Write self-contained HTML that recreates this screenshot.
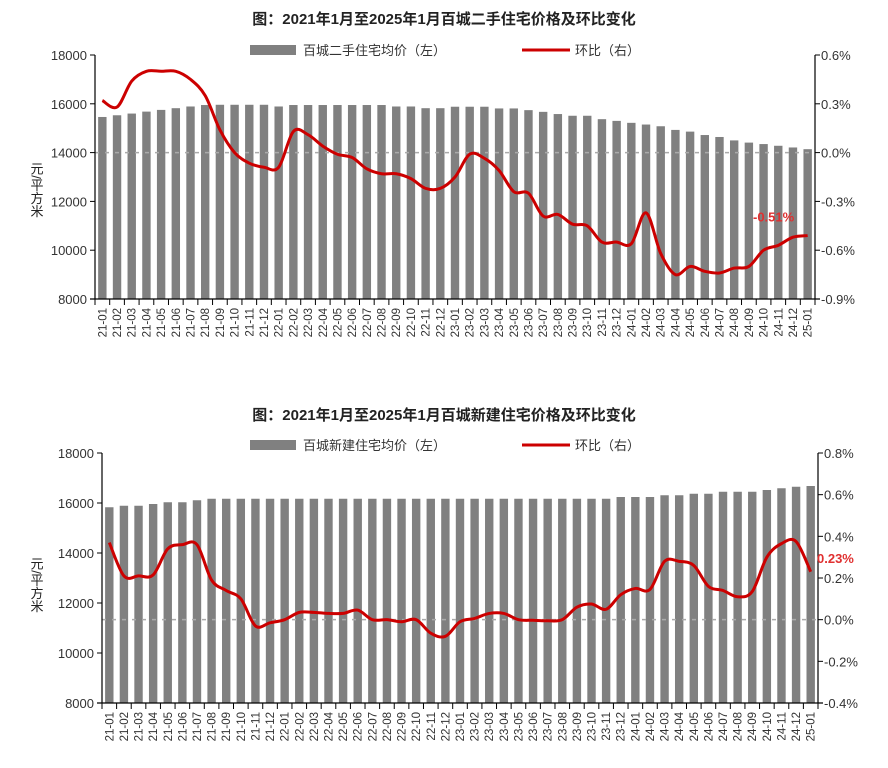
<!DOCTYPE html>
<html><head><meta charset="utf-8">
<style>
body{margin:0;background:#fff;}
svg{display:block;font-family:"Liberation Sans","Noto Sans CJK SC",sans-serif;}
</style></head>
<body>
<svg id="c" width="888" height="768" viewBox="0 0 888 768"></svg>
<script>
const months = [];
for (let y = 21; y <= 25; y++) for (let m = 1; m <= 12; m++) { if (y === 25 && m > 1) break; months.push(y + '-' + (m < 10 ? '0' + m : m)); }
const usedPrice = [15460,15530,15600,15680,15750,15820,15890,15950,15960,15960,15960,15960,15890,15950,15950,15950,15950,15950,15950,15950,15890,15890,15820,15820,15880,15880,15880,15810,15810,15740,15670,15580,15510,15510,15370,15300,15220,15150,15080,14930,14860,14720,14640,14500,14410,14350,14280,14210,14140];
const usedMoM = [0.32,0.28,0.44,0.50,0.50,0.50,0.45,0.35,0.14,0.0,-0.065,-0.09,-0.09,0.13,0.11,0.04,-0.01,-0.03,-0.10,-0.13,-0.13,-0.16,-0.22,-0.22,-0.15,-0.01,-0.035,-0.11,-0.24,-0.25,-0.39,-0.38,-0.44,-0.45,-0.55,-0.55,-0.56,-0.37,-0.62,-0.75,-0.70,-0.73,-0.74,-0.71,-0.70,-0.60,-0.57,-0.52,-0.51];
const newPrice = [15830,15890,15890,15960,16030,16030,16110,16170,16170,16170,16170,16170,16170,16170,16170,16170,16170,16170,16170,16170,16170,16170,16170,16170,16170,16170,16170,16170,16170,16170,16170,16170,16170,16170,16170,16240,16240,16240,16310,16310,16370,16370,16450,16450,16450,16520,16590,16650,16680];
const newMoM = [0.37,0.21,0.21,0.215,0.34,0.36,0.36,0.19,0.14,0.10,-0.03,-0.015,0.0,0.035,0.035,0.03,0.03,0.046,0.0,0.0,-0.01,0.0,-0.065,-0.08,-0.01,0.006,0.03,0.03,0.0,-0.003,-0.005,0.0,0.06,0.075,0.05,0.12,0.15,0.145,0.28,0.28,0.26,0.16,0.14,0.11,0.135,0.30,0.365,0.375,0.23];
const leftTicks = [8000,10000,12000,14000,16000,18000];
const rightTicksTop = [-0.9,-0.6,-0.3,0.0,0.3,0.6];
const rightTicksBot = [-0.4,-0.2,0.0,0.2,0.4,0.6,0.8];

const svg = document.getElementById('c');
const NS = 'http://www.w3.org/2000/svg';
function mk(tag, attrs, parent, text) {
  const e = document.createElementNS(NS, tag);
  for (const k in attrs) e.setAttribute(k, attrs[k]);
  if (text !== undefined) e.textContent = text;
  (parent || svg).appendChild(e);
  return e;
}
function smooth(pts) {
  let d = 'M' + pts[0][0] + ',' + pts[0][1];
  for (let i = 0; i < pts.length - 1; i++) {
    const p0 = pts[i - 1] || pts[i], p1 = pts[i], p2 = pts[i + 1], p3 = pts[i + 2] || p2;
    const c1x = p1[0] + (p2[0] - p0[0]) / 6, c1y = p1[1] + (p2[1] - p0[1]) / 6;
    const c2x = p2[0] - (p3[0] - p1[0]) / 6, c2y = p2[1] - (p3[1] - p1[1]) / 6;
    d += ' C' + c1x + ',' + c1y + ' ' + c2x + ',' + c2y + ' ' + p2[0] + ',' + p2[1];
  }
  return d;
}
function chart(o) {
  const g = mk('g', {});
  
  
  const yL = v => o.y1 + (v - 8000) / 10000 * (o.y0 - o.y1);
  const yR = v => o.y1 + (v - o.rMin) / (o.rMax - o.rMin) * (o.y0 - o.y1);
  const step = (o.x1 - o.x0) / months.length;
  const xC = i => o.x0 + step * (i + 0.5);
  const t = mk('text', {x: 444, y: o.titleY, 'text-anchor': 'middle', 'font-size': 15, 'font-weight': 'bold', fill: '#222'}, g, o.title);
   
  // legend
  const lg = mk('g', {}, g);
   
  mk('rect', {x: 250, y: o.legY - 5, width: 46, height: 10, fill: '#808080'}, lg);
  mk('text', {x: 303, y: o.legY + 5, 'font-size': 13, fill: '#333'}, lg, o.barLabel);
  mk('line', {x1: 522, y1: o.legY, x2: 570, y2: o.legY, stroke: '#cc0000', 'stroke-width': 3}, lg);
  mk('text', {x: 575, y: o.legY + 5, 'font-size': 13, fill: '#333'}, lg, '环比（右）');
  // bars
  usedBars = o.bars;
  o.bars.forEach((v, i) => {
    const r = mk('rect', {x: xC(i) - 4.2, y: yL(v), width: 8.4, height: o.y1 - yL(v), fill: '#808080'}, g);
    
    
  });
  // zero dashed
  const z = mk('line', {x1: o.x0, y1: yR(0), x2: o.x1, y2: yR(0), stroke: '#aaa', 'stroke-width': 1.5, 'stroke-dasharray': '4,6'}, g);
   
  // axes
  mk('line', {x1: o.x0, y1: o.y0, x2: o.x0, y2: o.y1, stroke: '#000', 'stroke-width': 1.2}, g);
  mk('line', {x1: o.x1, y1: o.y0, x2: o.x1, y2: o.y1, stroke: '#000', 'stroke-width': 1.2}, g);
  mk('line', {x1: o.x0 - 5, y1: o.y1, x2: o.x1 + 5, y2: o.y1, stroke: '#000', 'stroke-width': 1.2}, g);
  leftTicks.forEach(v => {
    mk('line', {x1: o.x0 - 5, y1: yL(v), x2: o.x0, y2: yL(v), stroke: '#000'}, g);
    const tx = mk('text', {x: o.x0 - 8, y: yL(v) + 5, 'text-anchor': 'end', 'font-size': 13, fill: '#333'}, g, String(v));
     
  });
  o.rTicks.forEach(v => {
    mk('line', {x1: o.x1, y1: yR(v), x2: o.x1 + 5, y2: yR(v), stroke: '#000'}, g);
    const tx = mk('text', {x: o.x1 + 6, y: yR(v) + 5, 'font-size': 13, fill: '#333'}, g, v.toFixed(1) + '%');
     
  });
  for (let i = 0; i <= months.length; i++) mk('line', {x1: o.x0 + step * i, y1: o.y1, x2: o.x0 + step * i, y2: o.y1 + 6, stroke: '#000'}, g);
  months.forEach((m, i) => {
    const tx = mk('text', {x: 0, y: 0, 'text-anchor': 'end', 'font-size': 11.5, fill: '#333', transform: 'translate(' + (xC(i) + 4) + ',' + (o.y1 + 9) + ') rotate(-90)'}, g, m);
     
  });
  // y title
  const yt = mk('text', {x: 36, y: o.yTitleY, 'font-size': 13, fill: '#222', 'writing-mode': 'tb', 'text-anchor': 'middle'}, g, '元/平方米');
   
  // line
  const pts = o.mom.map((v, i) => [xC(i), yR(v)]);
  const p = mk('path', {d: smooth(pts), fill: 'none', stroke: '#cc0000', 'stroke-width': 3, 'stroke-linejoin': 'round'}, g);
   
  const last = o.mom[o.mom.length - 1];
  const lb = mk('text', {x: o.lblX, y: yR(last) + o.lblDy, 'font-size': 13, 'font-weight': 'bold', fill: '#e03030'}, g, last.toFixed(2) + '%');
   
}
let usedBars;
chart({name: 'used-home-chart', title: '图：2021年1月至2025年1月百城二手住宅价格及环比变化', titleY: 24, legY: 50,
  barLabel: '百城二手住宅均价（左）', x0: 95, x1: 815, y0: 55, y1: 299, rMin: -0.9, rMax: 0.6, rTicks: rightTicksTop,
  bars: usedPrice, mom: usedMoM, yTitleY: 190, lblX: 753, lblDy: -14});
chart({name: 'new-home-chart', title: '图：2021年1月至2025年1月百城新建住宅价格及环比变化', titleY: 420, legY: 445,
  barLabel: '百城新建住宅均价（左）', x0: 102, x1: 818, y0: 453, y1: 703, rMin: -0.4, rMax: 0.8, rTicks: rightTicksBot,
  bars: newPrice, mom: newMoM, yTitleY: 585, lblX: 817, lblDy: -9});
</script>
</body></html>
